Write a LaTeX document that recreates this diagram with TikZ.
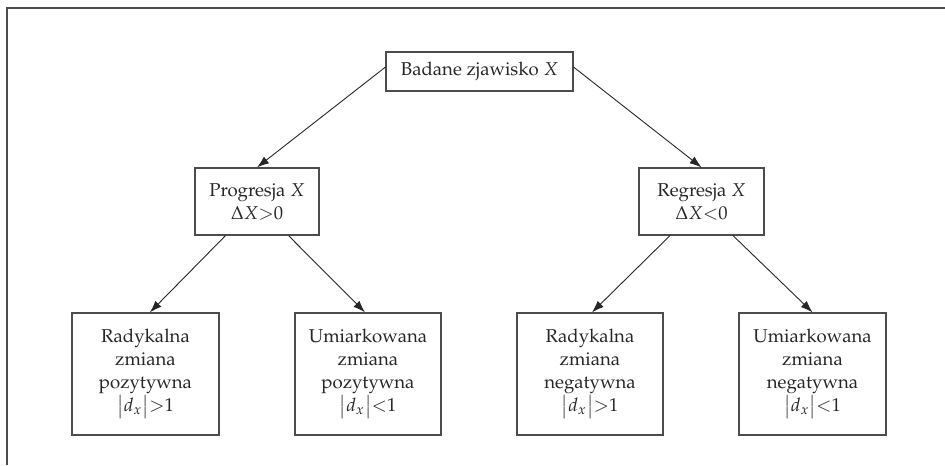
\documentclass[tikz,border=0pt]{standalone}
\usepackage[T1]{fontenc}
\usepackage{mathpazo}
\usetikzlibrary{arrows.meta}

\colorlet{frame}{black!70}
\colorlet{txt}{black!85}
\tikzset{
  box/.style={rectangle,draw=frame,line width=0.6pt,text=txt,align=center,
    inner sep=1pt,font=\fontsize{9.3}{11.5}\selectfont},
  link/.style={-{Latex[length=6pt,width=4.2pt]},line width=0.45pt,black!85},
}

\begin{document}
\begin{tikzpicture}[x=0.5pt,y=0.5pt]
  \useasboundingbox (0,0) rectangle (945,465);
  % frame lines
  \draw[frame,line width=0.9pt] (7,0) -- (7,457) -- (945,457);

  % top
  \node[box,minimum width=93.5pt,minimum height=19.5pt] (zjaw) at (479.5,393.5) {Badane zjawisko $X$};

  % level 1
  \node[box,minimum width=62pt,minimum height=33.5pt] (prog) at (257,263.5) {Progresja $X$\\ $\Delta X{>}0$};
  \node[box,minimum width=62.5pt,minimum height=33.5pt] (regr) at (701.5,263.5) {Regresja $X$\\ $\Delta X{<}0$};

  % level 2
  \node[box,minimum width=73.5pt,minimum height=61pt] (radpoz) at (145.5,91) {Radykalna\\ zmiana\\ pozytywna\\ $\bigl|d_x\bigr|{>}1$};
  \node[box,minimum width=73pt,minimum height=61pt] (umpoz) at (368,91) {Umiarkowana\\ zmiana\\ pozytywna\\ $\bigl|d_x\bigr|{<}1$};
  \node[box,minimum width=73pt,minimum height=61pt] (radneg) at (590,91) {Radykalna\\ zmiana\\ negatywna\\ $\bigl|d_x\bigr|{>}1$};
  \node[box,minimum width=73.5pt,minimum height=61pt] (umneg) at (812.5,91) {Umiarkowana\\ zmiana\\ negatywna\\ $\bigl|d_x\bigr|{<}1$};

  \draw[link] ([yshift=2.2pt]zjaw.west) -- (prog.north);
  \draw[link] ([yshift=2.2pt]zjaw.east) -- (regr.north);
  \draw[link] ([xshift=-15.75pt]prog.south) -- ([xshift=2.2pt]radpoz.north);
  \draw[link] ([xshift=15.75pt]prog.south) -- ([xshift=-1.5pt]umpoz.north);
  \draw[link] ([xshift=-15.75pt]regr.south) -- ([xshift=1pt]radneg.north);
  \draw[link] ([xshift=15.75pt]regr.south) -- (umneg.north);
\end{tikzpicture}
\end{document}
